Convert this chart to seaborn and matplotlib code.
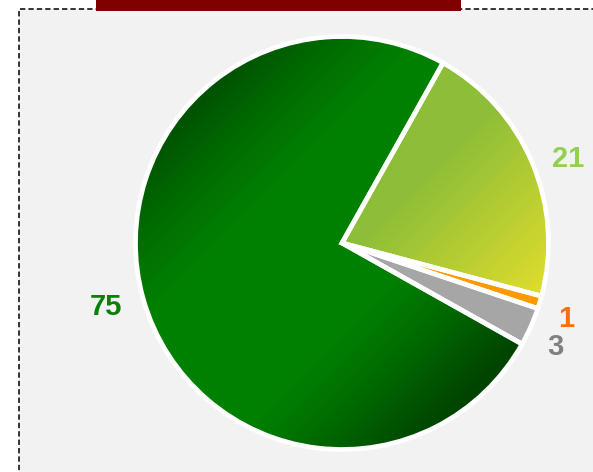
import numpy as np
import matplotlib
matplotlib.use("Agg")
import matplotlib.pyplot as plt
from matplotlib.patches import Rectangle
from matplotlib.colors import to_rgb
import seaborn as sns

# ---- data ----
categories = ["A", "B", "C", "D"]
values = [21, 1, 3, 75]
labels = ["21", "1", "3", "75"]
base_colors = ["#b5cc38", "#ff9900", "#a6a6a6", "#008000"]
label_colors = ["#92d050", "#f7700f", "#808080", "#0a7f0a"]

sns.set_theme(style="white")
plt.rcParams["font.family"] = ["Liberation Sans", "DejaVu Sans"]

W, H = 593, 472
fig = plt.figure(figsize=(W / 100, H / 100), dpi=100)
fig.patch.set_facecolor("white")

# panel background with dashed border (extends beyond right/bottom)
fig.patches.append(Rectangle((19 / W, -0.2), 1.2, 1.2 - 9 / H,
                             transform=fig.transFigure, facecolor="#f2f2f2",
                             edgecolor="black", linewidth=1.1,
                             linestyle=(0, (3.5, 2)), zorder=-2))
# dark red title bar
fig.patches.append(Rectangle((96 / W, 1 - 10.5 / H), (461 - 96) / W, 10.5 / H + 0.01,
                             transform=fig.transFigure, facecolor="#800000",
                             edgecolor="none", zorder=-1))

R = 206.5
cx, cy = 342, 243
lim = 1.25
size = 2 * lim * R
ax = fig.add_axes([(cx - size / 2) / W, (H - cy - size / 2) / H, size / W, size / H])
ax.set_facecolor("none")
ax.set_zorder(1)

start = 60.7
wedges, texts = ax.pie(values, labels=labels, colors=base_colors, startangle=start,
                       counterclock=False, radius=1, labeldistance=1.165,
                       wedgeprops=dict(linewidth=0))
rot = np.deg2rad(-1.7)
# small pixel nudges (x right, y down) to match label placement
nudges = [(2, 3), (-4, 0), (-4, 0), (-3, 6)]
for t, c, (nx, ny) in zip(texts, label_colors, nudges):
    x, y = t.get_position()
    x, y = x * np.cos(rot) - y * np.sin(rot), x * np.sin(rot) + y * np.cos(rot)
    t.set_position((x + nx / R, y - ny / R))
    t.set_color(c)
    t.set_fontweight("bold")
    t.set_fontsize(21)
    t.set_ha("center")
    t.set_va("center")

# gradient fills clipped to wedges
n = 500
xs = np.linspace(-1, 1, n)
X, Y = np.meshgrid(xs, xs)
d = (X - Y) / np.sqrt(2)  # diagonal coordinate: top-left -> bottom-right

def mix(c1, c2, t):
    c1 = np.array(to_rgb(c1)); c2 = np.array(to_rgb(c2))
    t = np.clip(t, 0, 1)[..., None]
    return c1 * (1 - t) + c2 * t

# big green slice: bright along anti-diagonal, dark toward corners
tg = np.where(d < 0,
              np.clip((-d - 0.4) / 0.6, 0, 1) ** 1.3 * 0.8,
              np.clip((d - 0.3) / 0.65, 0, 1) ** 1.2)
img_green = mix("#008000", "#004400", tg)
# yellow-green slice
ty = np.clip((d - 0.05) / 0.85, 0, 1)
img_yel = mix("#8dbe38", "#e4de2c", ty)

for w, img in ((wedges[3], img_green), (wedges[0], img_yel)):
    im = ax.imshow(img, extent=[-1, 1, -1, 1], origin="lower", zorder=1.5,
                   interpolation="bilinear")
    im.set_clip_path(w)

# white borders on top
ax.pie(values, startangle=start, counterclock=False, radius=1,
       wedgeprops=dict(facecolor="none", edgecolor="white", linewidth=3.4, zorder=3))

ax.set_xlim(-lim, lim)
ax.set_ylim(-lim, lim)
ax.set_aspect("equal")
ax.axis("off")

fig.savefig("out.png", dpi=100)
